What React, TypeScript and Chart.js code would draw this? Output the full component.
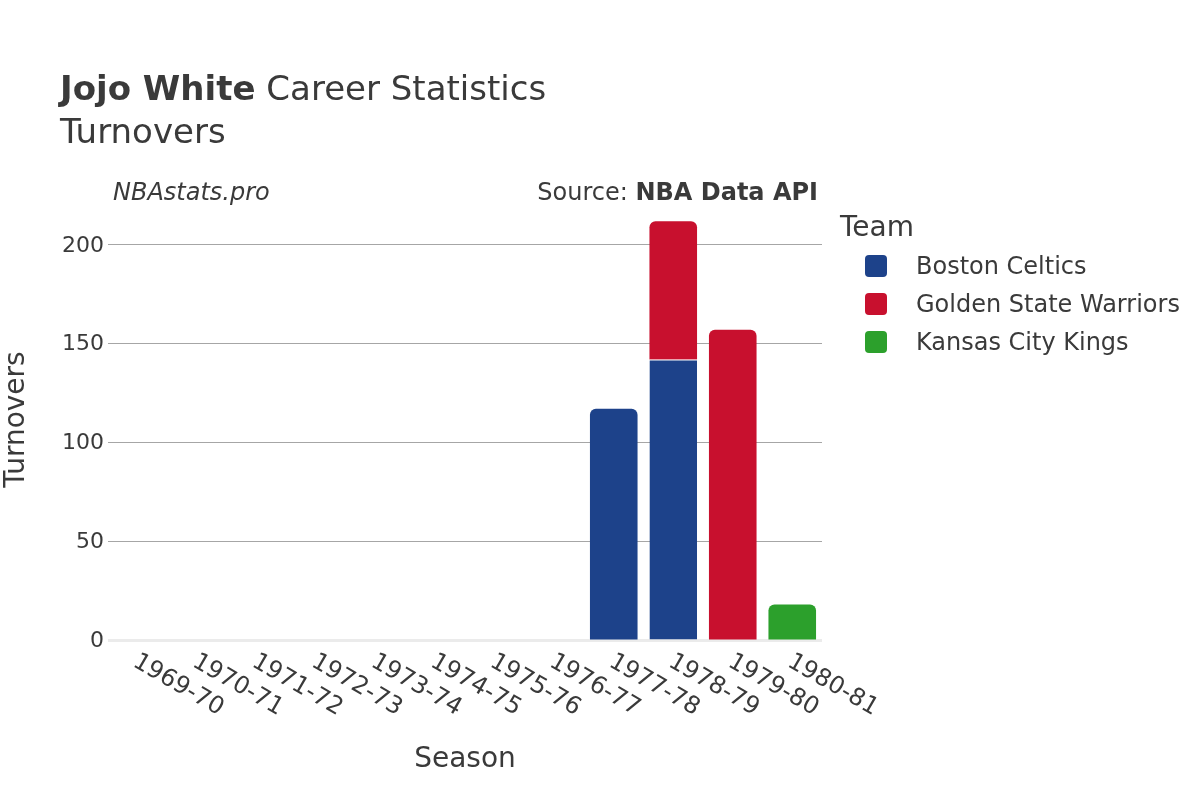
import React, { useEffect, useRef } from "react";
import { Chart, registerables } from "chart.js";

Chart.register(...registerables);

const seasons = [
  "1969-70", "1970-71", "1971-72", "1972-73", "1973-74", "1974-75",
  "1975-76", "1976-77", "1977-78", "1978-79", "1979-80", "1980-81",
];
const bostonCeltics = [null, null, null, null, null, null, null, null, 117, 142, null, null];
const goldenStateWarriors = [null, null, null, null, null, null, null, null, null, 70, 157, null];
const kansasCityKings = [null, null, null, null, null, null, null, null, null, null, null, 18];

const teamNames = ["Boston Celtics", "Golden State Warriors", "Kansas City Kings"];
const teamColors = ["#1d428a", "#c8102e", "#2ca02c"];

const FONT = "'DejaVu Sans', sans-serif";
const TEXT = "#3a3a3a";

export default function App() {
  const ref = useRef<HTMLCanvasElement | null>(null);

  useEffect(() => {
    const canvas = ref.current;
    if (!canvas) return;
    const seriesList = [bostonCeltics, goldenStateWarriors, kansasCityKings];

    const isTop = (di: number, idx: number) => {
      for (let k = di + 1; k < seriesList.length; k++) {
        const v = seriesList[k][idx];
        if (v !== null && v !== undefined) return false;
      }
      return true;
    };

    const decorations = {
      id: "decorations",
      beforeDatasetsDraw(chart: any) {
        const { ctx } = chart;
        const { left, right, bottom } = chart.chartArea;
        ctx.save();
        ctx.strokeStyle = "#ebebeb";
        ctx.lineWidth = 3;
        ctx.beginPath();
        ctx.moveTo(left, bottom + 0.5);
        ctx.lineTo(right, bottom + 0.5);
        ctx.stroke();
        ctx.restore();
      },
      afterDraw(chart: any) {
        const { ctx } = chart;
        const { left, right, top, bottom } = chart.chartArea;
        ctx.save();
        ctx.fillStyle = TEXT;

        // Title
        ctx.textBaseline = "alphabetic";
        ctx.textAlign = "left";
        ctx.font = `bold 34px ${FONT}`;
        ctx.fillText("Jojo White", 60, 100);
        const w = ctx.measureText("Jojo White").width;
        ctx.font = `34px ${FONT}`;
        ctx.fillText(" Career Statistics", 60 + w, 100);
        ctx.fillText("Turnovers", 60, 143);

        // Annotations
        ctx.font = `italic 24px ${FONT}`;
        ctx.fillText("NBAstats.pro", 113, 200);
        ctx.textAlign = "right";
        ctx.font = `bold 24px ${FONT}`;
        const bw = ctx.measureText("NBA Data API").width;
        ctx.fillText("NBA Data API", 818, 200);
        ctx.font = `24px ${FONT}`;
        ctx.fillText("Source: ", 818 - bw, 200);

        // Y tick labels
        const yScale = chart.scales.y;
        ctx.textAlign = "right";
        ctx.textBaseline = "middle";
        ctx.font = `22px ${FONT}`;
        yScale.ticks.forEach((t: any) => {
          const y = yScale.getPixelForValue(t.value);
          ctx.fillText(String(t.value), left - 4, y + 1);
        });

        // X tick labels (rotated clockwise)
        const xScale = chart.scales.x;
        ctx.textAlign = "left";
        ctx.textBaseline = "middle";
        ctx.font = `24px ${FONT}`;
        seasons.forEach((s, i) => {
          const x = xScale.getPixelForTick(i);
          ctx.save();
          ctx.translate(x - 3, bottom + 20);
          ctx.rotate(Math.PI / 6);
          ctx.fillText(s, 0, 0);
          ctx.restore();
        });

        // Axis titles
        ctx.font = `28px ${FONT}`;
        ctx.textAlign = "center";
        ctx.textBaseline = "middle";
        ctx.fillText("Season", (left + right) / 2, 760);
        ctx.save();
        ctx.translate(17, (top + bottom) / 2);
        ctx.rotate(-Math.PI / 2);
        ctx.fillText("Turnovers", 0, 0);
        ctx.restore();

        // Legend
        ctx.textAlign = "left";
        ctx.font = `28px ${FONT}`;
        ctx.fillText("Team", 840, 229);
        ctx.font = `24px ${FONT}`;
        chart.data.datasets.forEach((ds: any, i: number) => {
          const cy = 266 + i * 38;
          ctx.fillStyle = ds.backgroundColor;
          ctx.beginPath();
          (ctx as any).roundRect(865, cy - 11, 22, 22, 4);
          ctx.fill();
          ctx.fillStyle = TEXT;
          ctx.fillText(ds.label, 916, cy + 2);
        });
        ctx.restore();
      },
    };

    const datasets = seriesList.map((data, di) => ({
      label: teamNames[di],
      data,
      backgroundColor: teamColors[di],
      borderColor: "#ffffff",
      borderWidth: (c: any) => (isTop(di, c.dataIndex) ? 0 : { top: 1, left: 0, right: 0, bottom: 0 }),
      borderSkipped: "start" as const,
      borderRadius: (c: any) =>
        isTop(di, c.dataIndex)
          ? { topLeft: 6, topRight: 6, bottomLeft: 0, bottomRight: 0 }
          : 0,
      barPercentage: 0.8,
      categoryPercentage: 1,
    }));

    const chart = new Chart(canvas, {
      type: "bar",
      data: { labels: seasons, datasets },
      plugins: [decorations],
      options: {
        responsive: false,
        animation: false,
        layout: { padding: { left: 108, right: 378, top: 199, bottom: 152 } },
        plugins: { legend: { display: false }, tooltip: { enabled: false } },
        scales: {
          x: {
            stacked: true,
            grid: { display: false },
            border: { display: false },
            ticks: { display: false },
          },
          y: {
            stacked: true,
            min: 0,
            max: 223.2,
            grid: {
              color: (c: any) => (c.tick && c.tick.value === 0 ? "rgba(0,0,0,0)" : "#a6a6a6"),
              lineWidth: 1,
              drawTicks: false,
            },
            border: { display: false },
            ticks: { display: false, stepSize: 50, includeBounds: false },
          },
        },
      },
    });
    return () => chart.destroy();
  }, []);

  return (
    <div style={{ position: "fixed", left: 0, top: 0, width: 1200, height: 800, background: "#fff" }}>
      <canvas ref={ref} width={1200} height={800} style={{ width: 1200, height: 800 }} />
    </div>
  );
}
